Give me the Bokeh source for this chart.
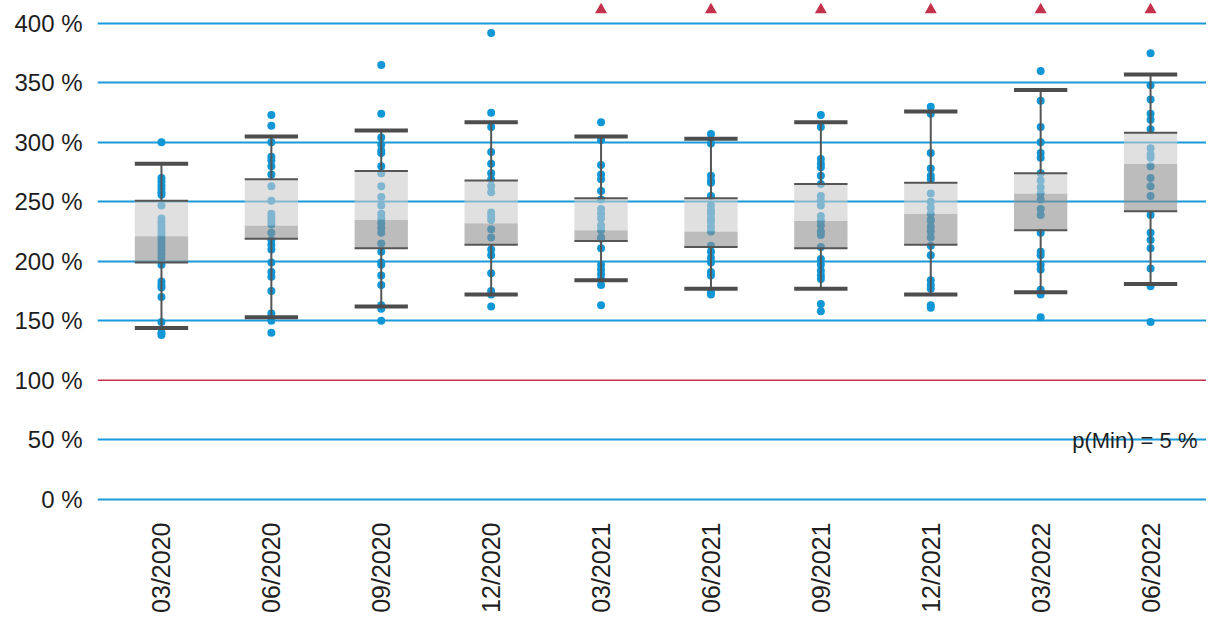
import math
from bokeh.plotting import figure
from bokeh.models import Range1d, FixedTicker, Span, Label
from bokeh.embed import file_html
from bokeh.resources import INLINE

categories = ["03/2020", "06/2020", "09/2020", "12/2020", "03/2021",
              "06/2021", "09/2021", "12/2021", "03/2022", "06/2022"]

y_ticks = [0, 50, 100, 150, 200, 250, 300, 350, 400]
y_tick_labels = ["0 %", "50 %", "100 %", "150 %", "200 %", "250 %", "300 %", "350 %", "400 %"]

pts_0320 = [300, 270, 267, 264, 261, 258, 256, 247, 236, 233, 230, 227, 224, 221, 218, 215,
            212, 209, 206, 203, 197, 183, 180, 178, 170, 149, 140, 138]
pts_0620 = [323, 314, 300, 288, 285, 280, 273, 263, 251, 240, 237, 234, 231, 224, 218, 214,
            210, 199, 191, 187, 175, 156, 150, 140]
pts_0920 = [365, 324, 304, 298, 293, 291, 280, 274, 263, 254, 247, 240, 236, 232, 228, 224,
            215, 208, 199, 197, 188, 180, 163, 160, 150]
pts_1220 = [392, 325, 313, 292, 282, 274, 269, 263, 258, 241, 238, 235, 227, 220, 210, 205,
            190, 175, 172, 162]
pts_0321 = [317, 302, 281, 273, 269, 259, 252, 244, 240, 236, 230, 226, 220, 219, 211, 197,
            193, 189, 185, 180, 163]
pts_0621 = [307, 299, 272, 268, 266, 255, 247, 243, 240, 236, 233, 229, 225, 213, 208, 203,
            199, 191, 188, 174, 172]
pts_0921 = [323, 313, 286, 282, 279, 272, 265, 255, 251, 247, 238, 234, 230, 225, 222, 212,
            202, 197, 192, 188, 185, 164, 158]
pts_1221 = [330, 324, 291, 278, 272, 269, 257, 250, 245, 240, 235, 234, 229, 225, 220, 213,
            205, 184, 180, 177, 163, 161]
pts_0322 = [360, 335, 313, 300, 291, 287, 274, 268, 262, 257, 252, 244, 239, 224, 208, 205,
            197, 193, 176, 172, 153]
pts_0622 = [375, 348, 336, 324, 319, 311, 295, 290, 287, 280, 270, 263, 255, 239, 224, 218,
            211, 194, 179, 149]
points = [pts_0320, pts_0620, pts_0920, pts_1220, pts_0321,
          pts_0621, pts_0921, pts_1221, pts_0322, pts_0622]

whisker_high = [282, 305, 310, 317, 305, 303, 317, 326, 344, 357]
q3 = [251, 269, 276, 268, 253, 253, 265, 266, 274, 308]
median = [221, 230, 235, 232, 226, 225, 234, 240, 257, 282]
q1 = [199, 219, 211, 214, 217, 212, 211, 214, 226, 242]
whisker_low = [144, 153, 162, 172, 184, 177, 177, 172, 174, 181]

above_range = [False, False, False, False, True, True, True, True, True, True]
above_marker_value = 411.5
threshold = 100
note_text = "p(Min) = 5 %"

BLUE = "#1196d6"
GRID_BLUE = "#1a9ad8"
RED = "#c4314b"
DARK = "#555555"
FONT = "Liberation Sans"
TEXT = "#1e1e1e"

p = figure(width=1206, height=619, output_backend="svg", toolbar_location=None,
           x_range=Range1d(-0.582, 9.509), y_range=Range1d(-2, 419.3),
           min_border_left=97, min_border_right=0, min_border_top=0, min_border_bottom=118)
p.outline_line_color = None
p.background_fill_color = "white"

# axes
p.xgrid.grid_line_color = None
p.ygrid.ticker = FixedTicker(ticks=[t for t in y_ticks if t != threshold])
p.ygrid.grid_line_color = GRID_BLUE
p.ygrid.grid_line_width = 2

p.yaxis.ticker = FixedTicker(ticks=y_ticks)
p.yaxis.major_label_overrides = {t: l for t, l in zip(y_ticks, y_tick_labels)}
p.xaxis.ticker = FixedTicker(ticks=list(range(len(categories))))
p.xaxis.major_label_overrides = {i: c for i, c in enumerate(categories)}
p.xaxis.major_label_orientation = math.pi / 2
for ax in (p.xaxis[0], p.yaxis[0]):
    ax.axis_line_color = None
    ax.major_tick_line_color = None
    ax.minor_tick_line_color = None
    ax.major_tick_out = 0
    ax.major_label_text_font = FONT
    ax.major_label_text_color = TEXT
p.yaxis.major_label_text_font_size = "24px"
p.yaxis.major_label_standoff = 15
p.xaxis.major_label_text_font_size = "25px"
p.xaxis.major_label_standoff = 21

p.add_layout(Span(location=threshold, dimension="width", line_color=RED, line_width=1.6,
                  level="underlay"))

# points
xs = [i for i, vals in enumerate(points) for _ in vals]
ys = [v for vals in points for v in vals]
p.scatter(xs, ys, size=8, fill_color=BLUE, line_color=None, marker="circle")

idx = list(range(len(categories)))
bw = 0.485
# boxes (translucent over points)
p.vbar(x=idx, width=bw, bottom=q1, top=median, fill_color="#8f8f8f", fill_alpha=0.6,
       line_color=None)
p.vbar(x=idx, width=bw, bottom=median, top=q3, fill_color="#cbcbcb", fill_alpha=0.6,
       line_color=None)
x0 = [i - bw / 2 for i in idx]
x1 = [i + bw / 2 for i in idx]
p.segment(x0=x0, x1=x1, y0=q1, y1=q1, line_color=DARK, line_width=2)
p.segment(x0=x0, x1=x1, y0=q3, y1=q3, line_color=DARK, line_width=2)
# whiskers
p.segment(x0=idx, x1=idx, y0=q3, y1=whisker_high, line_color=DARK, line_width=2)
p.segment(x0=idx, x1=idx, y0=whisker_low, y1=q1, line_color=DARK, line_width=2)
p.segment(x0=x0, x1=x1, y0=whisker_high, y1=whisker_high, line_color="#4d4d4d", line_width=4)
p.segment(x0=x0, x1=x1, y0=whisker_low, y1=whisker_low, line_color="#4d4d4d", line_width=4)

# markers for values beyond the axis
tx = [i for i, f in zip(idx, above_range) if f]
p.scatter(tx, [above_marker_value] * len(tx), marker="triangle", size=12,
          fill_color=RED, line_color=None)

p.add_layout(Label(x=9.427, y=49.5, text=note_text, text_align="right",
                   text_baseline="alphabetic", text_font=FONT, text_font_size="22px",
                   text_color=TEXT))

open("out.html", "w").write(file_html(p, INLINE))
